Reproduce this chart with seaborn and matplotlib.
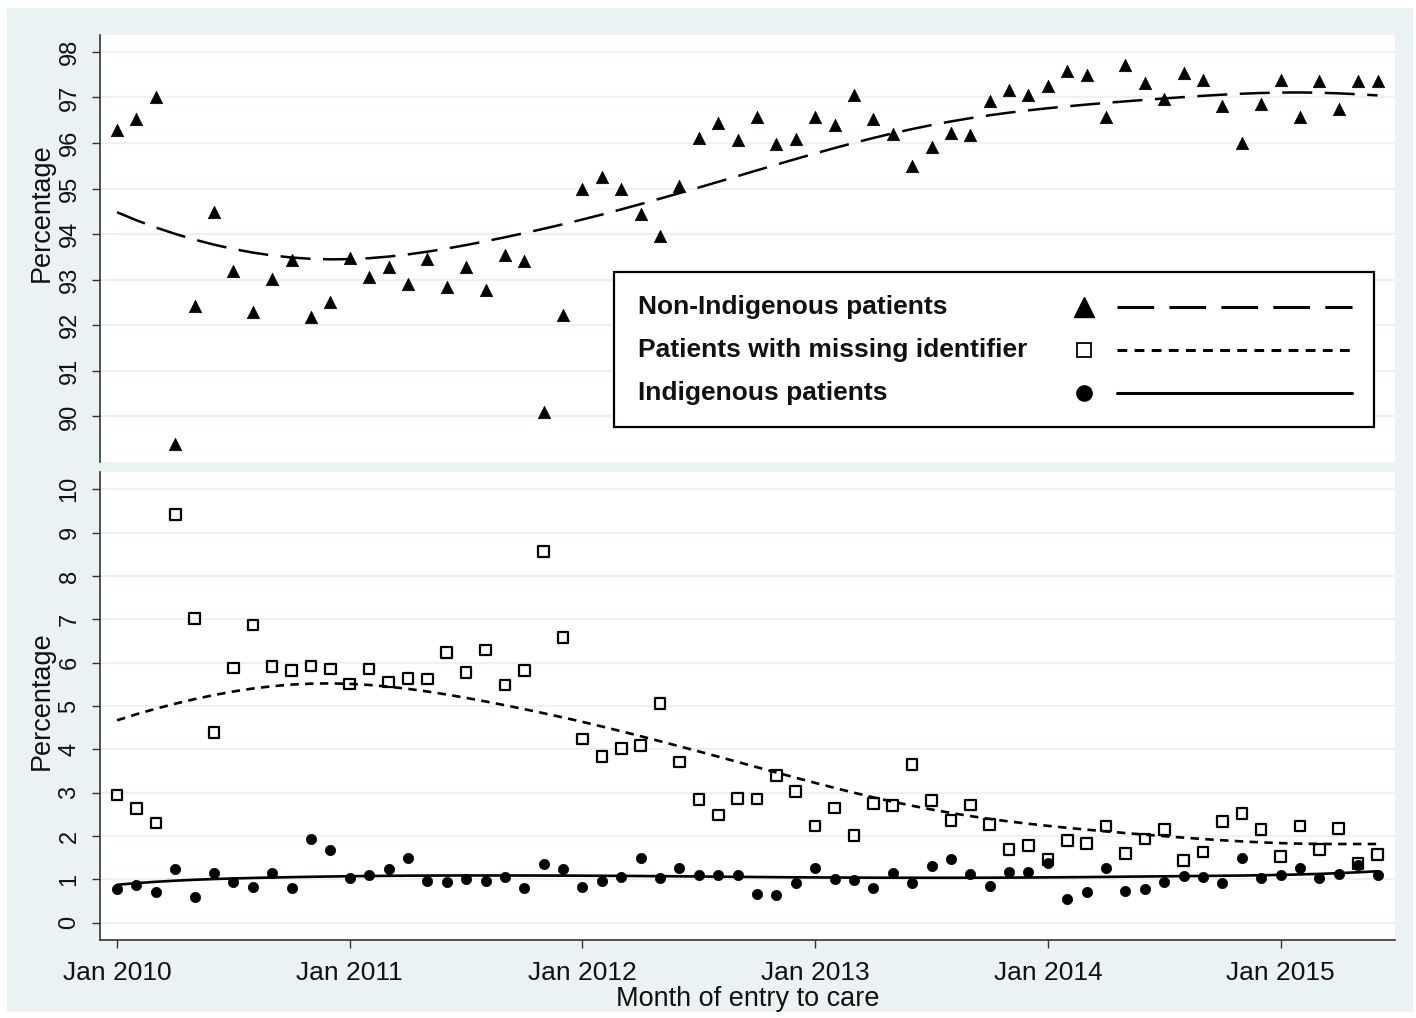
import numpy as np
import matplotlib
matplotlib.use("Agg")
import matplotlib.pyplot as plt
from matplotlib.patches import Rectangle
from matplotlib.lines import Line2D
import seaborn as sns

# monthly values, Jan 2010 .. Jun 2015
months = np.arange(66)
tick_pos = [0, 12, 24, 36, 48, 60]
tick_labels = ["Jan 2010", "Jan 2011", "Jan 2012", "Jan 2013", "Jan 2014", "Jan 2015"]

non_indigenous = [
    96.28, 96.52, 97.00, 89.40, 92.43, 94.49, 93.20, 92.30, 93.01, 93.43,
    92.19, 92.51, 93.47, 93.07, 93.27, 92.90, 93.45, 92.83, 93.27, 92.78,
    93.54, 93.40, 90.10, 92.23, 94.98, 95.25, 94.98, 94.44, 93.95, 95.06,
    96.10, 96.43, 96.06, 96.56, 95.98, 96.09, 96.56, 96.39, 97.05, 96.52,
    96.20, 95.49, 95.92, 96.23, 96.17, 96.92, 97.17, 97.05, 97.26, 97.58,
    97.49, 96.56, 97.72, 97.31, 96.96, 97.53, 97.38, 96.81, 96.00, 96.85,
    97.38, 96.56, 97.36, 96.74, 97.36, 97.36,
]
missing_id = [
    2.95, 2.63, 2.30, 9.42, 7.02, 4.39, 5.88, 6.87, 5.91, 5.82,
    5.92, 5.85, 5.51, 5.85, 5.55, 5.64, 5.62, 6.24, 5.77, 6.29,
    5.48, 5.82, 8.56, 6.58, 4.24, 3.84, 4.02, 4.09, 5.06, 3.71,
    2.84, 2.48, 2.87, 2.85, 3.39, 3.03, 2.23, 2.65, 2.01, 2.75,
    2.70, 3.65, 2.82, 2.36, 2.72, 2.26, 1.69, 1.78, 1.46, 1.90,
    1.83, 2.23, 1.60, 1.93, 2.15, 1.44, 1.63, 2.34, 2.52, 2.15,
    1.53, 2.23, 1.69, 2.17, 1.37, 1.57,
]
indigenous = [
    0.78, 0.86, 0.71, 1.24, 0.60, 1.15, 0.94, 0.83, 1.14, 0.81,
    1.93, 1.67, 1.04, 1.11, 1.24, 1.49, 0.96, 0.94, 1.00, 0.96,
    1.06, 0.81, 1.36, 1.24, 0.82, 0.97, 1.06, 1.50, 1.03, 1.27,
    1.09, 1.11, 1.11, 0.66, 0.63, 0.92, 1.26, 1.01, 0.98, 0.79,
    1.14, 0.92, 1.30, 1.47, 1.13, 0.84, 1.17, 1.17, 1.38, 0.55,
    0.71, 1.26, 0.73, 0.78, 0.94, 1.07, 1.06, 0.92, 1.50, 1.04,
    1.11, 1.26, 1.02, 1.13, 1.34, 1.09,
]

BG = "#EAF2F3"
W, H = 1416, 1018


def lowess_fit(x, y, bw=0.8):
    # running-line smoother with tricube weights (Stata-style lowess)
    x = np.asarray(x, float)
    y = np.asarray(y, float)
    n = len(x)
    k = int(np.floor((n * bw - 0.5) / 2))
    out = np.empty(n)
    for i in range(n):
        lo, hi = max(0, i - k), min(n - 1, i + k)
        xs, ys = x[lo:hi + 1], y[lo:hi + 1]
        delta = 1.0001 * max(x[hi] - x[i], x[i] - x[lo])
        w = (1 - (np.abs(xs - x[i]) / delta) ** 3) ** 3
        b = np.polyfit(xs, ys, 1, w=np.sqrt(w))
        out[i] = np.polyval(b, x[i])
    return out


sns.set_theme(style="white")
plt.rcParams["font.family"] = ["Liberation Sans", "DejaVu Sans"]

fig = plt.figure(figsize=(W / 100, H / 100), dpi=100, facecolor="white")
fig.patches.append(Rectangle((7 / W, 1 - 1012 / H), (1413 - 7) / W, (1012 - 8) / H,
                             transform=fig.transFigure, fc=BG, ec="none", zorder=-5))

left, right = 100 / W, 1395 / W
ax1 = fig.add_axes([left, 1 - 462 / H, right - left, (462 - 35) / H])
ax2 = fig.add_axes([left, 1 - 940 / H, right - left, (940 - 472) / H])

dash_long = (0, (12, 5))
dash_short = (0, (3.2, 2.4))

# upper panel
sns.scatterplot(x=months, y=non_indigenous, ax=ax1, marker="^", s=80, color="black",
                edgecolor="black", linewidth=0.5, zorder=3)
sns.lineplot(x=months, y=lowess_fit(months, non_indigenous), ax=ax1, color="black",
             lw=1.8, ls=dash_long)

# lower panel
sns.scatterplot(x=months, y=missing_id, ax=ax2, marker="s", s=58, facecolor="none",
                edgecolor="black", linewidth=1.6, zorder=3)
sns.scatterplot(x=months, y=indigenous, ax=ax2, marker="o", s=55, color="black",
                edgecolor="black", linewidth=0.5, zorder=3)
sns.lineplot(x=months, y=lowess_fit(months, missing_id), ax=ax2, color="black",
             lw=1.9, ls=dash_short)
sns.lineplot(x=months, y=lowess_fit(months, indigenous), ax=ax2, color="black",
             lw=1.9, ls="-")

for ax in (ax1, ax2):
    ax.set_facecolor("white")
    ax.set_xlim(-0.88, 65.9)
    ax.grid(axis="y", color=BG, lw=1.5)
    ax.set_axisbelow(True)
    for s in ("top", "right"):
        ax.spines[s].set_visible(False)
    ax.spines["left"].set_color("#333333")
    ax.spines["left"].set_linewidth(1.2)
    ax.tick_params(axis="y", left=True, length=6, width=1, color="#333333",
                   labelsize=17, labelrotation=90, pad=8, labelcolor="#111111")
    ax.set_ylabel("Percentage", fontsize=19.5, color="#111111")
    ax.set_xlabel("")

ax1.set_ylim(89.0, 98.37)
ax1.set_yticks(range(90, 99))
ax1.spines["bottom"].set_visible(False)
ax1.set_xticks([])
ax1.yaxis.set_label_coords(-0.035, 0.583)

ax2.set_ylim(-0.4, 10.4)
ax2.set_yticks(range(0, 11))
ax2.spines["bottom"].set_color("#333333")
ax2.spines["bottom"].set_linewidth(1.2)
ax2.set_xticks(tick_pos)
ax2.set_xticklabels(tick_labels)
ax2.tick_params(axis="x", bottom=True, length=6, width=1, color="#333333",
                labelsize=19, pad=9, labelcolor="#111111")
ax2.set_xlabel("Month of entry to care", fontsize=19.5, color="#111111", labelpad=1)
ax2.yaxis.set_label_coords(-0.035, 0.511)
for lab in ax1.get_yticklabels() + ax2.get_yticklabels():
    lab.set_va("center")

# legend box drawn in the upper panel (text left, marker and line on the right)
ax1.add_patch(Rectangle((0.397, 0.082), 0.984 - 0.397, 0.445 - 0.082, transform=ax1.transAxes,
                        fc="white", ec="black", lw=1.6, zorder=5))
entries = [
    ("Non-Indigenous patients", dict(marker="^", ms=14, mfc="black", mec="black"), dash_long, 0.363),
    ("Patients with missing identifier", dict(marker="s", ms=10.5, mfc="white", mec="black", mew=1.3), dash_short, 0.262),
    ("Indigenous patients", dict(marker="o", ms=11, mfc="black", mec="black"), "-", 0.161),
]
for label, mk, ls, yy in entries:
    ax1.text(0.4155, yy, label, transform=ax1.transAxes, fontsize=19, fontweight="bold",
             va="center", ha="left", color="#111111", zorder=6)
    ax1.add_line(Line2D([0.760], [yy], transform=ax1.transAxes, ls="none", zorder=6, **mk))
    ax1.add_line(Line2D([0.785, 0.967], [yy, yy], transform=ax1.transAxes, color="black",
                        lw=2.2, ls=ls, zorder=6))

fig.savefig("out.png", dpi=100, facecolor="white")
